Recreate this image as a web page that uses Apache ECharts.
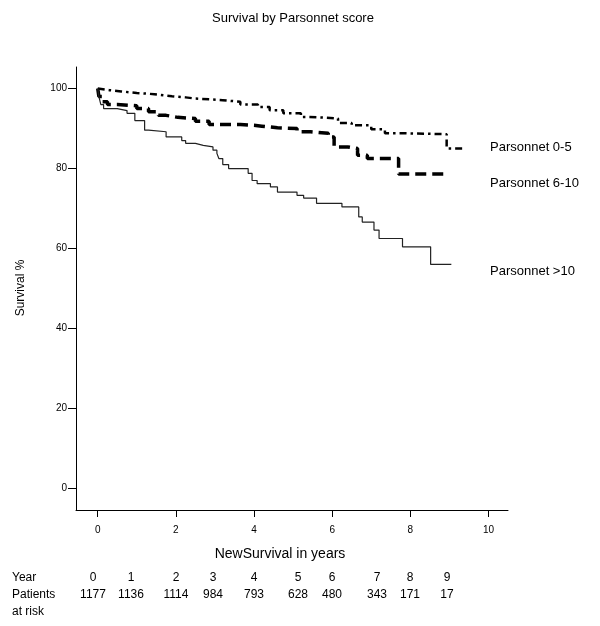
<!DOCTYPE html>
<html>
<head>
<meta charset="utf-8">
<script src="https://cdn.jsdelivr.net/npm/echarts@6/dist/echarts.min.js"></script>
<style>
html,body{margin:0;padding:0;background:#fff;}
#chart{width:600px;height:626px;}
</style>
</head>
<body>
<div id="chart"></div>
<script>
// ---- data ----
const chartTitle = 'Survival by Parsonnet score';
const xAxisTitle = 'NewSurvival in years';
const yAxisTitle = 'Survival %';
const xTicks = [0, 2, 4, 6, 8, 10];
const yTicks = [0, 20, 40, 60, 80, 100];
const groupNames = ['Parsonnet 0-5', 'Parsonnet 6-10', 'Parsonnet >10'];

const low_time = [0, 0.05, 0.3, 0.6, 1.0, 1.45, 1.9, 2.25, 2.5, 2.9, 3.2, 3.65, 4.1, 4.4, 4.75, 5.2, 5.4, 5.8, 6.15, 6.5, 7.0, 7.35, 7.9, 8.93, 9.42];
const low_surv = [100, 99.6, 99.3, 98.9, 98.6, 98.1, 97.8, 97.5, 97.3, 97.1, 96.7, 96.0, 95.4, 94.6, 93.8, 92.9, 92.75, 92.5, 91.4, 90.8, 89.8, 88.8, 88.6, 85.0, 85.0];

const mid_time = [0, 0.03, 0.12, 0.25, 0.5, 1.0, 1.3, 1.55, 1.75, 2.05, 2.5, 2.85, 3.65, 4.0, 4.2, 4.6, 5.1, 5.45, 5.9, 6.05, 6.4, 6.65, 6.9, 7.7, 8.95];
const mid_surv = [100, 98, 96.7, 96.0, 95.7, 95.0, 94.2, 93.3, 92.8, 92.5, 91.8, 91.0, 90.8, 90.6, 90.2, 90.0, 89.2, 88.8, 87.9, 85.4, 85.0, 83.3, 82.5, 78.6, 78.6];

const high_time = [0, 0.03, 0.08, 0.15, 0.5, 0.75, 0.95, 1.2, 1.3, 1.75, 2.15, 2.25, 2.5, 2.7, 2.95, 3.05, 3.1, 3.2, 3.35, 3.85, 3.95, 4.08, 4.42, 4.6, 5.1, 5.27, 5.6, 6.25, 6.68, 6.77, 7.07, 7.2, 7.8, 8.52, 9.05];
const high_surv = [100, 98, 96, 95, 94.5, 93.8, 92, 89.6, 89.2, 87.9, 87, 86.3, 85.8, 85.4, 84.6, 83.8, 82.5, 81, 80, 78.8, 77, 76.2, 75.4, 74.1, 73.3, 72.6, 71.3, 70.4, 67.9, 66.6, 64.6, 62.5, 60.4, 56, 56];

const riskYears = ['0', '1', '2', '3', '4', '5', '6', '7', '8', '9'];
const patientsAtRisk = [1177, 1136, 1114, 984, 793, 628, 480, 343, 171, 17];

// ---- layout (pixels) ----
const riskColX = [93, 131, 176, 213, 254, 298, 332, 377, 410, 447];
const FONT = 'Liberation Sans, Arial, sans-serif';

function pairs(t, s) { return t.map((v, i) => [v, s[i]]); }

const chart = echarts.init(document.getElementById('chart'), null, { renderer: 'canvas' });

const graphics = [
  { type: 'text', x: 293, y: 18, style: { text: chartTitle, font: '13px ' + FONT, fill: '#000', textAlign: 'center', textVerticalAlign: 'middle' } },
  { type: 'text', x: 21, y: 288, rotation: Math.PI / 2, style: { text: yAxisTitle, font: '12px ' + FONT, fill: '#000', textAlign: 'center', textVerticalAlign: 'middle' } },
  { type: 'text', x: 280, y: 554, style: { text: xAxisTitle, font: '14px ' + FONT, fill: '#000', textAlign: 'center', textVerticalAlign: 'middle' } },
  { type: 'text', x: 490, y: 147, style: { text: groupNames[0], font: '13px ' + FONT, fill: '#000', textVerticalAlign: 'middle' } },
  { type: 'text', x: 490, y: 183, style: { text: groupNames[1], font: '13px ' + FONT, fill: '#000', textVerticalAlign: 'middle' } },
  { type: 'text', x: 490, y: 271, style: { text: groupNames[2], font: '13px ' + FONT, fill: '#000', textVerticalAlign: 'middle' } },
  { type: 'text', x: 12, y: 578, style: { text: 'Year', font: '12px ' + FONT, fill: '#000', textVerticalAlign: 'middle' } },
  { type: 'text', x: 12, y: 595, style: { text: 'Patients', font: '12px ' + FONT, fill: '#000', textVerticalAlign: 'middle' } },
  { type: 'text', x: 12, y: 612, style: { text: 'at risk', font: '12px ' + FONT, fill: '#000', textVerticalAlign: 'middle' } }
];
riskYears.forEach((y, i) => {
  graphics.push({ type: 'text', x: riskColX[i], y: 578, style: { text: y, font: '12px ' + FONT, fill: '#000', textAlign: 'center', textVerticalAlign: 'middle' } });
  graphics.push({ type: 'text', x: riskColX[i], y: 595, style: { text: String(patientsAtRisk[i]), font: '12px ' + FONT, fill: '#000', textAlign: 'center', textVerticalAlign: 'middle' } });
});

const option = {
  backgroundColor: '#fff',
  animation: false,
  grid: { left: 76, right: 92, top: 67, bottom: 116, containLabel: false },
  xAxis: {
    type: 'value', min: -0.556, max: 10.5,
    axisLine: { show: true, onZero: false, lineStyle: { color: '#000', width: 1 } },
    axisTick: { show: true, length: 7, inside: false, customValues: xTicks, lineStyle: { color: '#000' } },
    axisLabel: { show: true, customValues: xTicks, margin: 15, color: '#000', fontSize: 10, fontFamily: FONT },
    splitLine: { show: false }
  },
  yAxis: {
    type: 'value', min: -5.43, max: 105.4,
    axisLine: { show: true, onZero: false, lineStyle: { color: '#000', width: 1 } },
    axisTick: { show: true, length: 8, inside: false, customValues: yTicks, lineStyle: { color: '#000' } },
    axisLabel: { show: true, customValues: yTicks, margin: 9, color: '#000', fontSize: 10, fontFamily: FONT },
    splitLine: { show: false }
  },
  graphic: graphics,
  series: [
    {
      name: groupNames[0], type: 'line', step: 'end', symbol: 'none',
      data: pairs(low_time, low_surv),
      lineStyle: { color: '#000', width: 2.5, type: [7, 4, 2.5, 4] }
    },
    {
      name: groupNames[1], type: 'line', step: 'end', symbol: 'none',
      data: pairs(mid_time, mid_surv),
      lineStyle: { color: '#000', width: 3.5, type: [11, 6] }
    },
    {
      name: groupNames[2], type: 'line', step: 'end', symbol: 'none',
      data: pairs(high_time, high_surv),
      lineStyle: { color: '#222', width: 1.2, type: 'solid' }
    }
  ]
};
chart.setOption(option);
</script>
</body>
</html>
